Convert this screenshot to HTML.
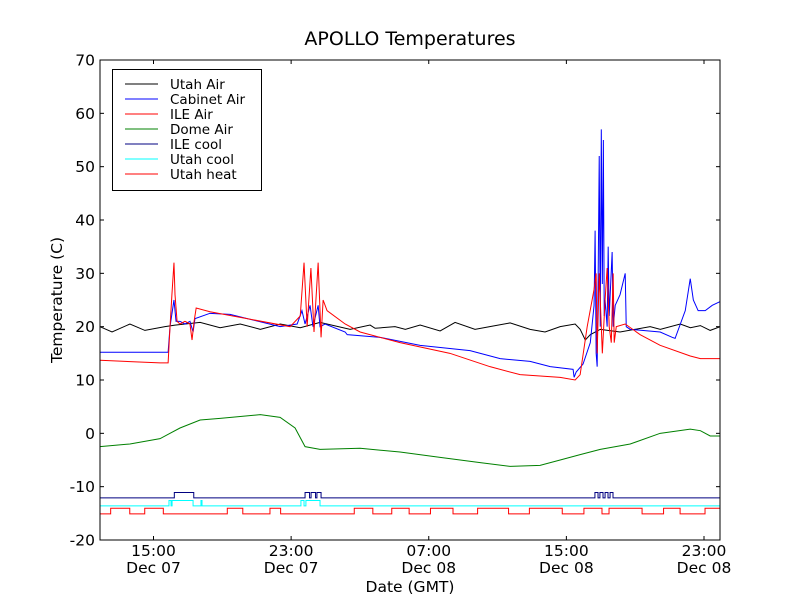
<!DOCTYPE html>
<html><head><meta charset="utf-8"><style>
body{margin:0;background:#fff;}
svg text{font-family:"DejaVu Sans","Liberation Sans",sans-serif;fill:#000;}
</style></head><body>
<svg id="chart" width="800" height="600" xmlns="http://www.w3.org/2000/svg">
<rect width="800" height="600" fill="#fff"/>
<text x="410" y="45" font-size="19" text-anchor="middle">APOLLO Temperatures</text>
<g id="plot"></g>
<rect x="100" y="60" width="620" height="480" fill="none" stroke="#000" stroke-width="1"/>
<g id="axes"></g>
<text x="410" y="592" font-size="15.5" text-anchor="middle">Date (GMT)</text>
<text transform="translate(62,300) rotate(-90)" font-size="15.5" text-anchor="middle">Temperature (C)</text>
<g id="legend"></g>
</svg>
<script>
// Data (x in hours since Dec 07 00:00 GMT)
const yTicks = [-20,-10,0,10,20,30,40,50,60,70];
const xTickHours = [15,23,31,39,47];
const xTickTimes = ["15:00","23:00","07:00","15:00","23:00"];
const xTickDates = ["Dec 07","Dec 07","Dec 08","Dec 08","Dec 08"];
const utahAirT = [11.89,12.59,13.63,14.50,15.67,16.25,17.71,18.87,20.04,21.21,22.37,23.53,24.68,26.43,27.59,27.88,29.04,29.64,30.50,31.66,32.53,33.69,34.55,35.73,36.89,37.76,38.64,39.51,39.80,40.10,40.39,40.97,42.12,43.87,44.46,45.62,46.21,46.79,47.36,47.94];
const utahAirV = [20,19,20.5,19.3,20,20.3,20.8,19.8,20.5,19.5,20.5,19.8,20.8,19.5,20.3,19.7,20,19.5,20.3,19.2,20.8,19.5,20,20.7,19.5,19,20,20.5,19.5,17.5,18.5,19.5,19,20,19.5,20.5,19.8,20.2,19.3,20];
const cabinetT = [11.89,15.85,15.96,16.19,16.31,16.54,16.83,17.12,17.30,17.41,18.28,19.45,22.36,23.35,23.63,23.81,24.10,24.27,24.57,24.68,24.97,26.14,26.26,28.17,30.50,33.40,35.15,36.89,38.06,39.39,39.45,39.57,39.97,40.39,40.61,40.67,40.73,40.79,40.85,40.91,40.97,41.03,41.09,41.15,41.20,41.25,41.37,41.43,41.49,41.66,41.72,41.84,42.12,42.42,42.48,42.71,44.45,45.15,45.32,45.91,46.20,46.38,46.66,47.07,47.48,47.94];
const cabinetV = [15.2,15.2,20,25,21,21,20.5,21,19,21.5,22.5,22.3,20,20.5,23,20.5,24,20,24,20,20.5,19,18.5,18,16.5,15.5,14,13.5,12.5,12,10.5,11.5,13,17,24,38,15,12.5,30,52,20,57,28,55,22,25,20,35,22,34,20,24,26,30,20,19.5,19,18,17.8,23,29,25,23,23,24,24.7];
const ileAirT = [11.89,15.38,15.85,15.96,16.07,16.19,16.25,16.37,16.54,16.83,17.12,17.24,17.36,17.48,18.28,22.94,23.53,23.75,23.93,24.15,24.33,24.57,24.74,24.86,25.09,26.14,27.01,29.33,32.23,34.56,36.31,38.64,39.51,39.80,40.21,40.61,40.73,40.79,40.91,41.09,41.25,41.37,41.49,41.61,41.72,41.78,41.90,42.42,43.29,44.45,46.20,46.79,47.94];
const ileAirV = [13.7,13.2,13.2,20,26,32,26,21,20.5,21,20.5,17.5,21,23.5,22.8,20,22,32,20,31,19,32,18,25,23,20.5,19,17,15,12.5,11,10.5,10,11,20,27,30,15,30,15,25,31,20,17,30,17,20,20.5,18.5,16.5,14.5,14,14];
const domeT = [11.89,13.63,15.38,15.96,16.54,17.71,18.87,21.21,22.36,23.23,23.81,24.68,27.01,29.33,31.66,33.99,35.73,37.47,38.64,39.80,40.97,42.71,44.45,46.20,46.79,47.36,47.94];
const domeV = [-2.5,-2,-1,0,1,2.5,2.8,3.5,3,1,-2.5,-3,-2.8,-3.5,-4.5,-5.5,-6.2,-6,-5,-4,-3,-2,0,0.8,0.5,-0.5,-0.5];
const ileCoolOn = [[16.21,17.34],[23.81,24.07],[24.16,24.42],[24.50,24.74],[40.66,40.84],[40.95,41.13],[41.25,41.42],[41.54,41.71]];
const ileCoolLevels = [-12.1,-11.1];
const utahCoolOn = [[15.90,16.02],[16.08,17.30],[17.76,17.82],[23.57,23.75],[23.86,24.68]];
const utahCoolLevels = [-13.6,-12.6];
const utahHeatOn = [[12.51,13.62],[14.49,15.57],[19.29,20.19],[21.77,22.39],[26.67,27.75],[28.85,29.86],[31.10,32.41],[33.84,35.64],[36.85,38.76],[40.02,41.07],[41.48,43.40],[44.65,45.61],[47.06,47.94]];
const utahHeatLevels = [-15.1,-14.05];

const X0=100,X1=720,Y0=540,Y1=60,HMIN=11.89,HMAX=47.93,VMIN=-20,VMAX=70;
const sx=h=>X0+(h-HMIN)/(HMAX-HMIN)*(X1-X0);
const sy=v=>Y0-(v-VMIN)/(VMAX-VMIN)*(Y0-Y1);
const NS="http://www.w3.org/2000/svg";
const plot=document.getElementById('plot');
const axes=document.getElementById('axes');
const legend=document.getElementById('legend');
function mk(tag,attrs,parent){const e=document.createElementNS(NS,tag);for(const k in attrs)e.setAttribute(k,attrs[k]);parent.appendChild(e);return e;}
function line(ts,vs,color,name){
  const d=ts.map((t,i)=>(i?'L':'M')+sx(t).toFixed(2)+','+sy(vs[i]).toFixed(2)).join('');
  const p=mk('path',{d:d,fill:'none',stroke:color,'stroke-width':1},plot);
  
  
}
function step(on,levels,color,name){
  let d='M'+X0+','+sy(levels[0]);
  on.forEach(([a,b])=>{
    d+='L'+sx(a).toFixed(2)+','+sy(levels[0])+'L'+sx(a).toFixed(2)+','+sy(levels[1])+'L'+Math.min(sx(b),X1).toFixed(2)+','+sy(levels[1]);
    if(sx(b)<X1-0.5) d+='L'+sx(b).toFixed(2)+','+sy(levels[0]);
  });
  d+='L'+X1+','+sy(sx(on[on.length-1][1])>=X1-0.5?levels[1]:levels[0]);
  const p=mk('path',{d:d,fill:'none',stroke:color,'stroke-width':1},plot);
  
  
}
line(utahAirT,utahAirV,'#000','utah-air-line');
line(cabinetT,cabinetV,'#0000ff','cabinet-air-line');
line(ileAirT,ileAirV,'#ff0000','ile-air-line');
line(domeT,domeV,'#008000','dome-air-line');
step(ileCoolOn,ileCoolLevels,'#000080','ile-cool-line');
step(utahCoolOn,utahCoolLevels,'#00ffff','utah-cool-line');
step(utahHeatOn,utahHeatLevels,'#ff0000','utah-heat-line');

yTicks.forEach(v=>{
  const y=sy(v);
  mk('line',{x1:X0,x2:X0+4,y1:y,y2:y,stroke:'#000'},axes);
  mk('line',{x1:X1-4,x2:X1,y1:y,y2:y,stroke:'#000'},axes);
  const t=mk('text',{x:X0-5,y:y+5.5,'font-size':15.5,'text-anchor':'end'},axes);
  t.textContent=v;
  
  
});
xTickHours.forEach((h,i)=>{
  const x=sx(h);
  mk('line',{x1:x,x2:x,y1:Y0,y2:Y0-4,stroke:'#000'},axes);
  mk('line',{x1:x,x2:x,y1:Y1,y2:Y1+4,stroke:'#000'},axes);
  const t=mk('text',{x:x,y:556,'font-size':15.5,'text-anchor':'middle'},axes);
  t.textContent=xTickTimes[i];
  
  
  const t2=mk('text',{x:x,y:573,'font-size':15.5,'text-anchor':'middle'},axes);
  t2.textContent=xTickDates[i];
  
  
});
mk('rect',{x:112.5,y:69.5,width:149,height:121,fill:'#fff',stroke:'#000'},legend);
const legNames=['Utah Air','Cabinet Air','ILE Air','Dome Air','ILE cool','Utah cool','Utah heat'];
const legColors=['#000','#0000ff','#ff0000','#008000','#000080','#00ffff','#ff0000'];
legNames.forEach((n,i)=>{
  const y=84+i*15;
  const g=mk('g',{},legend);
  
  
  mk('line',{x1:125,x2:158,y1:y,y2:y,stroke:legColors[i]},g);
  const t=mk('text',{x:170,y:y+5,'font-size':13.5},g);
  t.textContent=n;
});
</script>
</body></html>
